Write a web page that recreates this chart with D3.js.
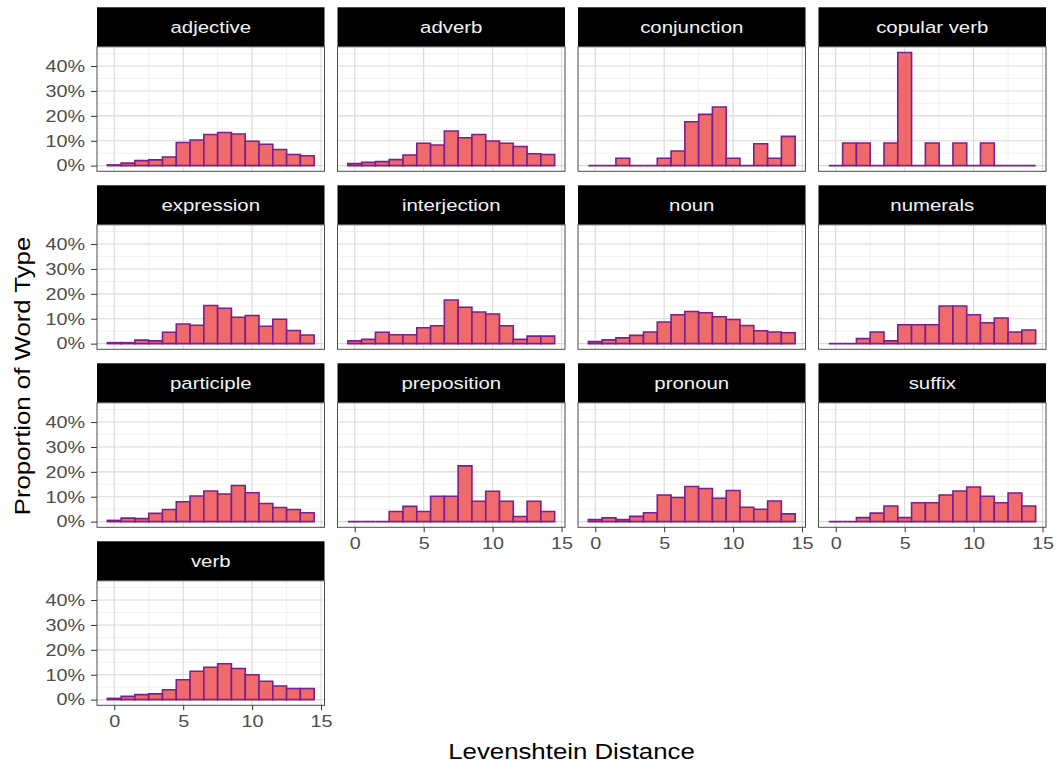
<!DOCTYPE html>
<html><head><meta charset="utf-8">
<script src="https://cdn.jsdelivr.net/npm/d3@7"></script>
<style>body{margin:0;background:#fff} svg{display:block}</style>
</head><body>
<svg id="chart" width="1056" height="767"></svg>
<script>
// ---- data (percent of word type per Levenshtein distance bin) ----
const wordTypes = ["adjective","adverb","conjunction","copular verb","expression","interjection","noun","numerals","participle","preposition","pronoun","suffix","verb"];
const distances = [0,1,2,3,4,5,6,7,8,9,10,11,12,13,14];
const adjective    = [0.3,1.0,2.0,2.3,3.5,9.3,10.3,12.5,13.3,12.7,9.8,8.6,6.5,4.5,4.0];
const adverb       = [0.8,1.3,1.6,2.4,4.3,9.0,8.3,13.9,11.2,12.5,9.9,9.0,7.7,4.8,4.5];
const conjunction  = [0,0,2.94,0,0,2.94,5.88,17.65,20.59,23.53,2.94,0,8.82,2.94,11.76];
const copularVerb  = [0,9.09,9.09,0,9.09,45.45,0,9.09,0,9.09,0,9.09,0,0,0];
const expression   = [0.4,0.4,1.4,1.1,4.6,7.9,7.4,15.3,14.2,10.6,11.3,7.0,9.8,5.3,3.5];
const interjection = [1.1,1.7,4.6,3.6,3.6,6.4,7.2,17.5,14.6,12.7,11.9,7.2,1.7,3.0,3.0];
const noun         = [0.8,1.5,2.3,3.3,4.7,8.7,11.6,12.9,12.4,10.8,9.7,7.3,5.2,4.7,4.4];
const numerals     = [0,0,2.0,4.7,1.1,7.6,7.6,7.6,15.1,15.1,11.6,8.4,10.3,4.7,5.5];
const participle   = [0.5,1.4,1.2,3.3,4.9,8.0,10.3,12.3,11.1,14.5,11.6,7.3,5.7,4.9,3.6];
const preposition  = [0,0,0,4.08,6.12,4.08,10.2,10.2,22.4,8.16,12.2,8.16,2.04,8.16,4.08];
const pronoun      = [0.8,1.5,0.8,2.1,3.6,10.7,9.7,14.1,13.3,9.4,12.5,5.8,5.0,8.3,3.1];
const suffix       = [0,0,1.6,3.4,6.3,1.6,7.6,7.6,10.7,12.3,13.9,10.2,7.6,11.5,6.3];
const verb         = [0.5,1.3,2.0,2.3,4.0,8.0,11.4,13.0,14.4,12.5,10.0,7.4,5.5,4.5,4.5];
const seriesValues = [adjective,adverb,conjunction,copularVerb,expression,interjection,noun,numerals,participle,preposition,pronoun,suffix,verb];
const yTicks = [0,10,20,30,40];
const yMinorTicks = [5,15,25,35,45];
const xTicks = [0,5,10,15];
const xMinorTicks = [2.5,7.5,12.5];
const xTitle = "Levenshtein Distance";
const yTitle = "Proportion of Word Type";

// ---- layout ----
const SX = 1.2;              // glyph widening along the text direction
const nCols = 4;
const colX0 = 97, colStep = 240.5, panelW = 227.5;
const rowY0 = 7.3, rowStep = 178, stripH = 39.5, plotH = 124.5;
const FONT = "'Liberation Sans', Arial, Helvetica, sans-serif";

const table = wordTypes.map((t,i) => ({type:t, idx:i, bins: distances.map((d,j)=>({d, v: seriesValues[i][j]}))}));

const svg = d3.select("#chart");
svg.append("rect").attr("width",1056).attr("height",767).attr("fill","#fff");

const x = d3.scaleLinear().domain([-1.25,15.25]).range([0,panelW]);
const y = d3.scaleLinear().domain([-2.273,47.727]).range([plotH,0]);

function stretchText(sel){
  sel.each(function(){
    const t = d3.select(this);
    const xx = +t.attr("x") || 0;
    t.attr("x", xx/SX).attr("transform", `scale(${SX},1)`);
  });
}

const nPanels = table.length;
function hasXAxis(i){ return (i+nCols)>=nPanels; }

table.forEach((p,i)=>{
  const r = Math.floor(i/nCols), c = i % nCols;
  const gx = colX0 + c*colStep, gy = rowY0 + r*rowStep;
  const g = svg.append("g").attr("transform",`translate(${gx},${gy})`);
  // strip
  g.append("rect").attr("x",0).attr("y",0).attr("width",panelW).attr("height",stripH).attr("fill","#000");
  g.append("text").attr("transform",`translate(${panelW/2},${stripH/2+6}) scale(${SX},1)`)
    .attr("text-anchor","middle").attr("font-family",FONT).attr("font-size",17).attr("fill","#f2f2f2").text(p.type);
  const pg = g.append("g").attr("transform",`translate(0,${stripH})`);
  pg.append("rect").attr("width",panelW).attr("height",plotH).attr("fill","#fff");
  // minor grid
  pg.selectAll(".gxm").data(xMinorTicks).join("line").attr("x1",d=>x(d)).attr("x2",d=>x(d)).attr("y1",0).attr("y2",plotH).attr("stroke","#ebebeb").attr("stroke-width",0.7);
  pg.selectAll(".gym").data(yMinorTicks).join("line").attr("y1",d=>y(d)).attr("y2",d=>y(d)).attr("x1",0).attr("x2",panelW).attr("stroke","#ebebeb").attr("stroke-width",0.7);
  // major grid
  pg.selectAll(".gx").data(xTicks).join("line").attr("x1",d=>x(d)).attr("x2",d=>x(d)).attr("y1",0).attr("y2",plotH).attr("stroke","#d9d9d9").attr("stroke-width",1.1);
  pg.selectAll(".gy").data(yTicks).join("line").attr("y1",d=>y(d)).attr("y2",d=>y(d)).attr("x1",0).attr("x2",panelW).attr("stroke","#d9d9d9").attr("stroke-width",1.1);
  // bars
  pg.selectAll("path.bar").data(p.bins).join("path").attr("class","bar")
    .attr("d", b => { const x0=x(b.d-0.5), x1=x(b.d+0.5), y0=y(0), y1=y(b.v);
      return `M${x0},${y0}V${y1}H${x1}V${y0}Z`; })
    .attr("fill","#ef6a6a").attr("stroke","#7b1f8e").attr("stroke-width",1.6).attr("stroke-linejoin","miter");
  // border
  pg.append("rect").attr("width",panelW).attr("height",plotH).attr("fill","none").attr("stroke","#4d4d4d").attr("stroke-width",1);
  // axes
  if (c===0){
    const ax = pg.append("g").call(d3.axisLeft(y).tickValues(yTicks).tickSize(6).tickPadding(6).tickFormat(d=>d+"%"));
    ax.select(".domain").remove();
    ax.selectAll("line").attr("stroke","#333").attr("stroke-width",1);
    ax.selectAll("text").attr("font-family",FONT).attr("font-size",16.5).attr("fill","#4d4d4d").call(stretchText);
  }
  if (hasXAxis(i)){
    const ax = pg.append("g").attr("transform",`translate(0,${plotH})`)
      .call(d3.axisBottom(x).tickValues(xTicks).tickSize(5).tickPadding(5).tickFormat(d3.format("d")));
    ax.select(".domain").remove();
    ax.selectAll("line").attr("stroke","#333").attr("stroke-width",1);
    ax.selectAll("text").attr("font-family",FONT).attr("font-size",16.5).attr("fill","#4d4d4d").call(stretchText);
  }
});

// axis titles
const panelsLeft = colX0, panelsRight = colX0 + (nCols-1)*colStep + panelW;
svg.append("text").attr("transform",`translate(${(panelsLeft+panelsRight)/2},${759}) scale(${SX},1)`)
  .attr("text-anchor","middle").attr("font-family",FONT).attr("font-size",21.5).attr("fill","#000").text(xTitle);
svg.append("text").attr("transform",`translate(${30},${376}) rotate(-90) scale(${SX},1)`)
  .attr("text-anchor","middle").attr("font-family",FONT).attr("font-size",21.5).attr("fill","#000").text(yTitle);
</script>
</body></html>
